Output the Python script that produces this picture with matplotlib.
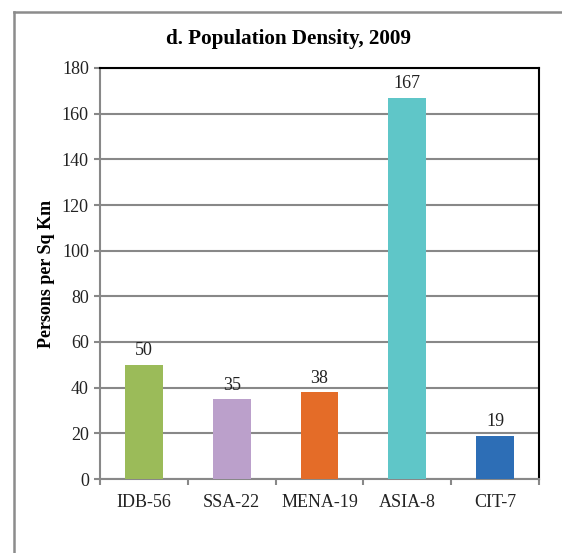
import matplotlib
matplotlib.use("Agg")
import matplotlib.pyplot as plt
import numpy as np
from matplotlib.lines import Line2D

categories = ["IDB-56", "SSA-22", "MENA-19", "ASIA-8", "CIT-7"]
values = [50, 35, 38, 167, 19]
labels = ["50", "35", "38", "167", "19"]
colors = ["#9BBB59", "#BBA0CB", "#E46C28", "#5FC6C8", "#2D6EB6"]
yticks = [0, 20, 40, 60, 80, 100, 120, 140, 160, 180]

plt.rcParams['font.family'] = ['Liberation Serif', 'DejaVu Serif']

fig = plt.figure(figsize=(5.62, 5.53), dpi=100)
ax = fig.add_axes([100/562, 1-479/553, (539-100)/562, (479-68)/553])

x = np.arange(len(categories))
ax.bar(x, values, width=0.43, color=colors, zorder=3)
for xi, v, lab in zip(x, values, labels):
    ax.annotate(lab, (xi, v), xytext=(0, 4), textcoords="offset points",
                ha="center", va="bottom", fontsize=13, color="#222222")

ax.set_xlim(-0.5, len(categories) - 0.5)
ax.set_ylim(0, 180)
ax.set_yticks(yticks)
ax.set_yticklabels([str(t) for t in yticks], fontsize=13, color="#222222")
ax.set_xticks(x)
ax.set_xticklabels(categories, fontsize=13, color="#222222")
ax.set_xticks(np.arange(len(categories) + 1) - 0.5, minor=True)
ax.tick_params(axis="x", which="major", length=0, pad=11)
ax.tick_params(axis="x", which="minor", length=4, width=1.5, color="#888888")
ax.tick_params(axis="y", length=4, width=1.5, color="#888888", pad=4)

ax.grid(axis="y", color="#888888", linewidth=1.5, zorder=0)
ax.set_axisbelow(True)
for s in ["left", "bottom"]:
    ax.spines[s].set_color("#888888")
    ax.spines[s].set_linewidth(1.5)
for s in ["top", "right"]:
    ax.spines[s].set_color("black")
    ax.spines[s].set_linewidth(1.5)

ax.set_ylabel("Persons per Sq Km", fontsize=13, fontweight="bold")
ax.yaxis.set_label_coords(-(100-55)/439, 0.5)

fig.text(288/562, 1-39/553, "d. Population Density, 2009", ha="center", va="center",
         fontsize=15.2, fontweight="bold")

# outer frame (left and top edges visible)
fig.add_artist(Line2D([14/562, 14/562], [0, 1-12/553], transform=fig.transFigure,
                      color="#8C8C8C", linewidth=1.8))
fig.add_artist(Line2D([14/562, 1], [1-12/553, 1-12/553], transform=fig.transFigure,
                      color="#8C8C8C", linewidth=1.8))

fig.savefig("out.png", dpi=100)
